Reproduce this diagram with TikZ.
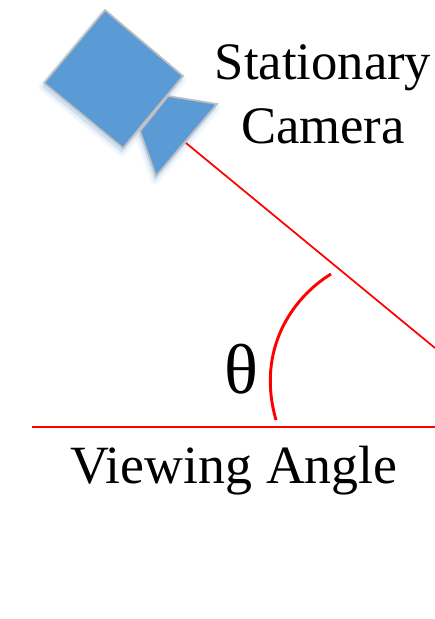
\documentclass[tikz,border=0pt]{standalone}
\usepackage{fontspec}
\setmainfont{Liberation Serif}
\usetikzlibrary{positioning,calc}
\definecolor{camblue}{HTML}{5B9BD5}
\definecolor{camedge}{HTML}{BFBFBF}
\definecolor{linered}{HTML}{FF0000}
\tikzset{
  camshape/.style={fill=camblue, draw=camedge, line width=1.3pt, line join=miter},
  camglow/.style={draw=camblue, fill=camblue, opacity=0.05, line join=round},
  redline/.style={linered, line width=1.3pt},
  bigtext/.style={font=\fontsize{39.5}{48}\selectfont, align=center, inner sep=0pt}
}
\begin{document}
\begin{tikzpicture}[x=0.75pt, y=-0.75pt]
  \useasboundingbox (0,0) rectangle (435,619);
  % soft glow under the camera
  \foreach \w in {1,3,5,7}{
    \draw[camglow, line width=\w pt, xshift=-0.75pt, yshift=-3pt] (105,10) -- (183,76) -- (123,148) -- (44,83) -- cycle;
    \draw[camglow, line width=\w pt, xshift=-0.75pt, yshift=-3pt] (168,96) -- (217,104) -- (156,176) -- (140,131) -- cycle;
  }
  \draw[camshape] (168,96) -- (217,104) -- (156,176) -- (140,131) -- cycle;
  \draw[camshape] (105,10) -- (183,76) -- (123,148) -- (44,83) -- cycle;

  \coordinate (lensend) at (186,143);
  \coordinate (rightend) at (435,348);
  \coordinate (baseleft) at (32,427);
  \coordinate (baseright) at (435,427);
  \draw[redline] (lensend) -- (rightend);
  \draw[redline] (baseleft) -- (baseright);
  \draw[linered, line width=2.2pt] (331,274) .. controls (292,298) and (256,350) .. (276,420);

  \node[bigtext] (camlabel) at (323,94) {Stationary\\Camera};
  \node[bigtext] (thetalabel) at (241.5,369) {\fontsize{53}{56}\selectfont θ};
  \node[bigtext, font=\fontsize{40.4}{48}\selectfont] (anglelabel) at (234,471) {Viewing Angle};
\end{tikzpicture}
\end{document}
